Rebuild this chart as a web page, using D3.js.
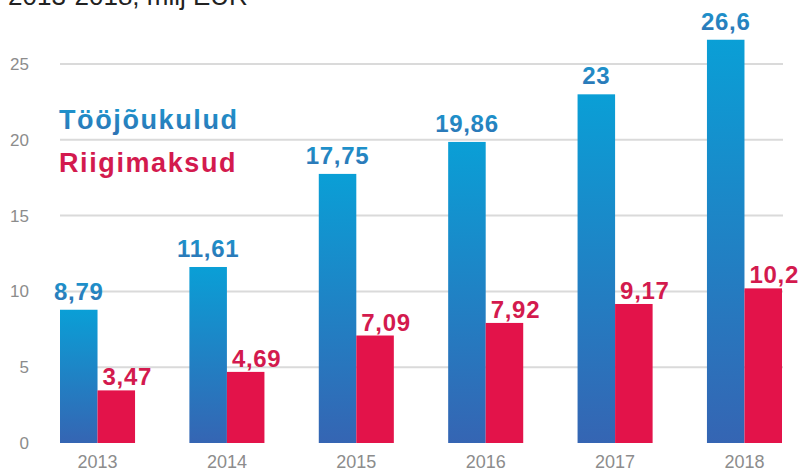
<!DOCTYPE html>
<html>
<head>
<meta charset="utf-8">
<script src="https://cdn.jsdelivr.net/npm/d3@7"></script>
<style>
  body { margin: 0; background: #fff; }
  svg { display: block; font-family: "Liberation Sans", Arial, sans-serif; }
</style>
</head>
<body>
<div id="chart"></div>
<script>
var years = ["2013", "2014", "2015", "2016", "2017", "2018"];
var labour = [8.79, 11.61, 17.75, 19.86, 23, 26.6];
var taxes = [3.47, 4.69, 7.09, 7.92, 9.17, 10.2];
var yTicks = [0, 5, 10, 15, 20, 25];
var seriesNames = ["Tööjõukulud", "Riigimaksud"];
var title = "2013-2018, milj EUR";

var svgWidth = 806, svgHeight = 473;

var svg = d3.select("#chart").append("svg")
    .attr("width", svgWidth)
    .attr("height", svgHeight);

var defs = svg.append("defs");
var grad = defs.append("linearGradient")
    .attr("id", "blueGrad")
    .attr("x1", 0).attr("y1", 0).attr("x2", 0).attr("y2", 1);
grad.append("stop").attr("offset", "0%").attr("stop-color", "#0a9fd6");
grad.append("stop").attr("offset", "100%").attr("stop-color", "#3565b3");

var tgrad = defs.append("linearGradient")
    .attr("id", "blueText")
    .attr("x1", 0).attr("y1", 0).attr("x2", 0).attr("y2", 1);
tgrad.append("stop").attr("offset", "0%").attr("stop-color", "#1a98d0");
tgrad.append("stop").attr("offset", "100%").attr("stop-color", "#2f72b3");

var x = d3.scaleBand()
    .domain(years)
    .range([60, 782])
    .paddingInner(0.42)
    .paddingOuter(0);

var x1 = d3.scaleBand()
    .domain([0, 1])
    .range([0, x.bandwidth()]);

var y = d3.scaleLinear()
    .domain([0, 25])
    .range([443, 64]);

// title (cut off at the top like the original)
svg.append("text")
    .attr("x", 8)
    .attr("y", 5)
    .attr("fill", "#222")
    .style("font-size", "26px")
    .text(title);

// gridlines
svg.append("g").selectAll("line")
    .data(yTicks.filter(function(d) { return d > 0; }))
    .enter().append("line")
    .attr("x1", 60)
    .attr("x2", 783)
    .attr("y1", function(d) { return y(d); })
    .attr("y2", function(d) { return y(d); })
    .attr("stroke", "#dadada")
    .attr("stroke-width", 2);

// y labels
svg.append("g").selectAll("text")
    .data(yTicks)
    .enter().append("text")
    .attr("x", 29)
    .attr("y", function(d) { return y(d) + 6; })
    .attr("text-anchor", "end")
    .attr("fill", "#8c8c8c")
    .style("font-size", "17px")
    .text(function(d) { return d; });

// x labels
var xAxis = d3.axisBottom(x).tickSize(0).tickPadding(0);
var xg = svg.append("g")
    .attr("transform", "translate(0,451)")
    .call(xAxis);
xg.select(".domain").remove();
xg.selectAll("text")
    .attr("dy", "0.95em")
    .attr("fill", "#8c8c8c")
    .style("font-size", "18px")
    .style("font-family", "'Liberation Sans', Arial, sans-serif");

var fmt = function(v) { return String(v).replace(".", ","); };

var groups = svg.append("g").selectAll("g")
    .data(years)
    .enter().append("g")
    .attr("transform", function(d) { return "translate(" + x(d) + ",0)"; });

// blue bars
groups.append("rect")
    .attr("x", x1(0))
    .attr("width", x1.bandwidth())
    .attr("y", function(d, i) { return y(labour[i]); })
    .attr("height", function(d, i) { return y(0) - y(labour[i]); })
    .attr("fill", "url(#blueGrad)");

// red bars
groups.append("rect")
    .attr("x", x1(1))
    .attr("width", x1.bandwidth())
    .attr("y", function(d, i) { return y(taxes[i]); })
    .attr("height", function(d, i) { return y(0) - y(taxes[i]); })
    .attr("fill", "#e3134a");

// value labels
groups.append("text")
    .attr("x", x1(0) + x1.bandwidth() / 2)
    .attr("y", function(d, i) { return y(labour[i]) - 10; })
    .attr("text-anchor", "middle")
    .attr("fill", "url(#blueText)")
    .style("font-size", "24px")
    .style("font-weight", "bold")
    .style("letter-spacing", "0.7px")
    .text(function(d, i) { return fmt(labour[i]); });

groups.append("text")
    .attr("x", x1(1) + 5)
    .attr("y", function(d, i) { return y(taxes[i]) - 5; })
    .attr("text-anchor", "start")
    .attr("fill", "#d31a4e")
    .style("font-size", "24px")
    .style("font-weight", "bold")
    .style("letter-spacing", "0.7px")
    .text(function(d, i) { return fmt(taxes[i]); });

// legend
var legend = svg.append("g").attr("class", "legend");
legend.selectAll("text")
    .data(seriesNames)
    .enter().append("text")
    .attr("x", 59)
    .attr("y", function(d, i) { return 129 + i * 43; })
    .attr("fill", function(d, i) { return i === 0 ? "url(#blueText)" : "#d31a4e"; })
    .style("font-size", "27px")
    .style("font-weight", "bold")
    .style("letter-spacing", "1.6px")
    .text(function(d) { return d; });
</script>
</body>
</html>
